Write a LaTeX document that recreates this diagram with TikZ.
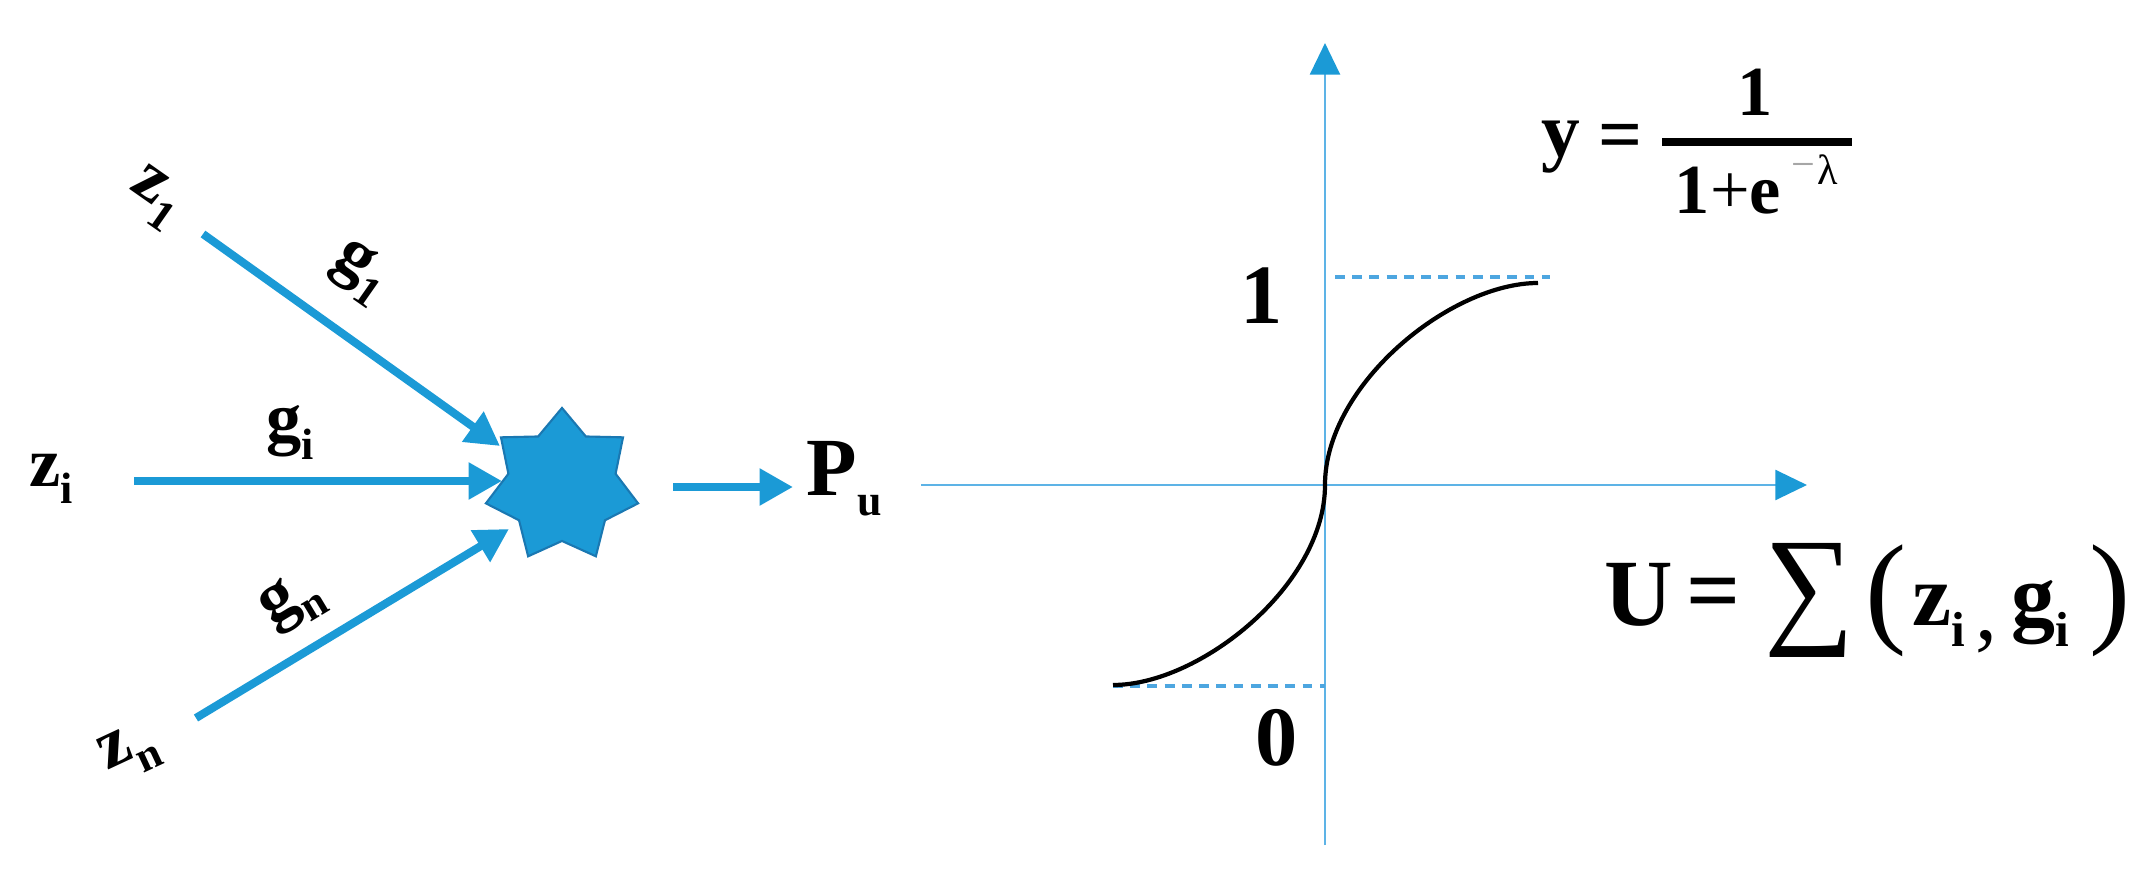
\documentclass[tikz,border=0pt]{standalone}
\usepackage{fontspec}
\setmainfont{Liberation Serif}
\usetikzlibrary{arrows.meta,shapes.geometric}
\definecolor{arrowblue}{RGB}{27,154,214}
\definecolor{axisblue}{RGB}{93,179,230}
\definecolor{starline}{RGB}{26,120,178}
\definecolor{dashblue}{RGB}{77,166,224}
\newcommand\fs[1]{\fontsize{#1}{#1}\selectfont}
\newcommand\lowsub[3]{\raisebox{-#2}{\fs{#1}#3}}
\begin{document}
\begin{tikzpicture}[x=0.01cm,y=-0.01cm,
  inarrow/.style={draw=arrowblue,line width=2.3pt,-{Triangle[length=9.5pt,width=10pt]}},
  axisline/.style={draw=axisblue,line width=0.8pt,-{Triangle[length=9pt,width=8.5pt,color=arrowblue]}},
  guide/.style={draw=dashblue,line width=1pt,dash pattern=on 2.8pt off 2.1pt},
  lbl/.style={inner sep=0pt,font=\bfseries},
  plain/.style={inner sep=0pt},
]
\useasboundingbox (0,0) rectangle (2147,888);

% ---- left: weighted inputs ----
\node[lbl,rotate=-35] (z1) at (155,198) {\fs{20}z\lowsub{12.5}{5pt}{1}};
\node[lbl,rotate=-35] (g1) at (360,272) {\fs{20}g\lowsub{12.5}{5pt}{1}};
\node[lbl,anchor=base west] (zi) at (29,486) {\fs{20}z\lowsub{12.5}{5pt}{i}};
\node[lbl,anchor=base west] (gi) at (266,442) {\fs{20}g\lowsub{12.5}{5pt}{i}};
\node[lbl,rotate=31] (gn) at (292,602) {\fs{20}g\lowsub{12.5}{5pt}{n}};
\node[lbl,rotate=25] (zn) at (130,752) {\fs{20}z\lowsub{12.5}{5pt}{n}};

\node[star,star points=7,star point ratio=1.42,minimum size=1.56cm,inner sep=0pt,
      fill=arrowblue,draw=starline,line width=0.6pt] (sum) at (562,486) {};

\coordinate (z1s) at (203,234); \coordinate (z1e) at (500,446);
\coordinate (zis) at (134,481); \coordinate (zie) at (502,481);
\coordinate (zns) at (196,718); \coordinate (zne) at (509,529);
\draw[inarrow] (z1s) -- (z1e);
\draw[inarrow] (zis) -- (zie);
\draw[inarrow] (zns) -- (zne);

\coordinate (os) at (673,487); \coordinate (oe) at (793,487);
\draw[inarrow] (os) -- (oe);
\node[lbl,anchor=base west] (pu) at (806,495) {\fs{23.5}P\lowsub{12.5}{5.7pt}{u}};

% ---- right: sigmoid plot ----
\coordinate (xs) at (921,485); \coordinate (xe) at (1807,485);
\coordinate (ys) at (1325,845); \coordinate (ye) at (1325,43);
\coordinate (o) at (1325,485);
\draw[axisline] (xs) -- (xe);
\draw[axisline] (ys) -- (ye);

\coordinate (g1a) at (1335,277); \coordinate (g1b) at (1550,277);
\coordinate (g0a) at (1113,686); \coordinate (g0b) at (1325,686);
\draw[guide] (g1a) -- (g1b);
\draw[guide] (g0a) -- (g0b);

\coordinate (c0) at (1113,685); \coordinate (c1) at (1538,283);
\draw[black,line width=1.2pt] (c0) .. controls (1200,685) and (1325,585) .. (o)
      .. controls (1325,385) and (1450,283) .. (c1);

\node[lbl] (one) at (1262,296) {\fs{24}1};
\node[lbl] (zero) at (1277,738) {\fs{24}0};

% formula y = 1/(1+e^{-lambda})
\node[lbl,anchor=base west] (fy) at (1541,157) {\fs{22}y};
\node[lbl] (feq) at (1621,142) {\fs{22}=};
\coordinate (bar0) at (1662,142); \coordinate (bar1) at (1852,142);
\draw[line width=2pt] (bar0) -- (bar1);
\node[lbl] (fnum) at (1755,92) {\fs{20}1};
\node[lbl] (fden) at (1728,191) {\fs{20}1\textmd{+}e};
\node[plain,text=black!35] (fminus) at (1803,171) {\fs{12}−};
\node[plain] (flam) at (1828,170) {\fs{12}λ};

% formula U = sum(z_i, g_i)
\node[lbl,anchor=base west] (uU) at (1604,625) {\fs{27}U};
\node[lbl] (ueq) at (1714,600) {\fs{27}=};
\node[plain] (usum) at (1810,600) {\resizebox*{0.9cm}{1.14cm}{∑}};
\node[plain] (ulp) at (1886,601) {\resizebox*{!}{1.12cm}{(}};
\node[lbl,anchor=base west] (uzg) at (1912,625) {\fs{25}z\lowsub{14}{6pt}{i}\hspace{0.12em}\lowsub{25}{4pt}{\textmd{,}}\hspace{0.15em}g\lowsub{14}{6pt}{i}};
\node[plain] (urp) at (2110,601) {\resizebox*{!}{1.12cm}{)}};
\end{tikzpicture}
\end{document}
